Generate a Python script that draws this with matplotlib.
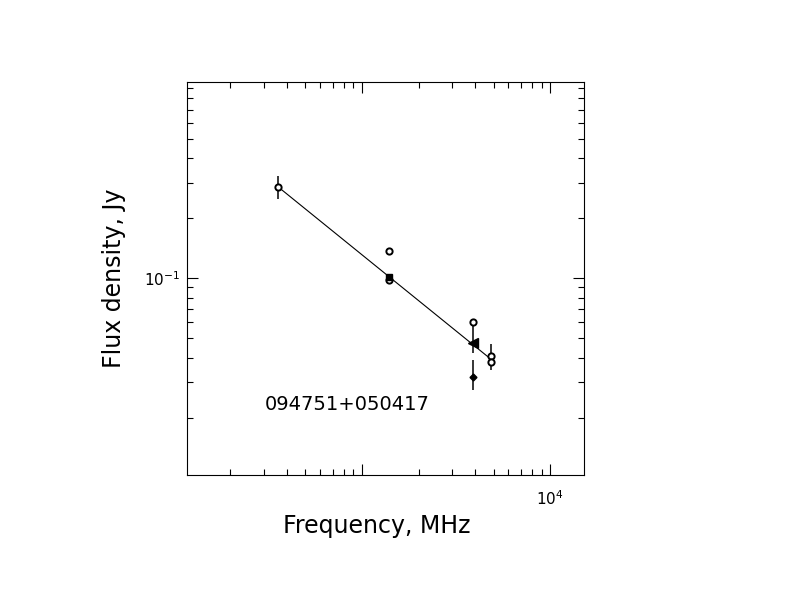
import numpy as np
import matplotlib
matplotlib.use("Agg")
import matplotlib.pyplot as plt
import matplotlib.ticker as ticker

# open circles
circ_freq = [358, 1400, 1400, 3900, 4850, 4850]
circ_flux = [0.288, 0.137, 0.098, 0.0606, 0.0408, 0.0378]
circ_err = [0.037, 0.0, 0.0, 0.0, 0.006, 0.0]

# filled square
sq_freq = [1400]
sq_flux = [0.102]

# filled triangle (asymmetric error)
tri_freq = [3900]
tri_flux = [0.0475]
tri_err_lo = [0.0052]
tri_err_hi = [0.0131]

# filled diamond
dia_freq = [3900]
dia_flux = [0.0321]
dia_err_lo = [0.0046]
dia_err_hi = [0.0068]

# power-law fit
fit_freq = [358, 4850]
fit_flux = [0.288, 0.0392]

source_name = "094751+050417"

plt.rcParams["font.family"] = ["DejaVu Sans"]

fig = plt.figure(figsize=(7.92, 6.12), dpi=100)
ax = fig.add_axes([0.2357, 0.2239, 0.502, 0.6426])
ax.set_xscale("log")
ax.set_yscale("log")
ax.set_xlim(117.2, 15155)
ax.set_ylim(0.0103, 0.97)

lw = 0.8
ax.plot(fit_freq, fit_flux, color="black", lw=lw)

ax.errorbar(circ_freq, circ_flux, yerr=circ_err, fmt="o", ms=4.5, mfc="white",
            mec="black", mew=1.4, ecolor="black", elinewidth=1.1, capsize=0, zorder=3)
ax.plot(sq_freq, sq_flux, "s", ms=4.5, color="black", zorder=4)
ax.errorbar(tri_freq, tri_flux, yerr=[tri_err_lo, tri_err_hi], fmt="<", ms=6.5,
            color="black", elinewidth=1.1, capsize=0, zorder=3)
ax.errorbar(dia_freq, dia_flux, yerr=[dia_err_lo, dia_err_hi], fmt="D", ms=3.5,
            color="black", elinewidth=1.1, capsize=0, zorder=3)

ax.text(0.197, 0.178, source_name, transform=ax.transAxes, fontsize=14,
        ha="left", va="center")

# ticks
ax.xaxis.set_major_locator(ticker.FixedLocator([1e3, 1e4]))
ax.xaxis.set_major_formatter(ticker.FixedFormatter(["", r"$10^{4}$"]))
ax.xaxis.set_minor_locator(ticker.LogLocator(base=10, subs=np.arange(2, 10)))
ax.xaxis.set_minor_formatter(ticker.NullFormatter())
ax.yaxis.set_major_locator(ticker.FixedLocator([0.1]))
ax.yaxis.set_major_formatter(ticker.FixedFormatter([r"$10^{-1}$"]))
ax.yaxis.set_minor_locator(ticker.LogLocator(base=10, subs=np.arange(2, 10)))
ax.yaxis.set_minor_formatter(ticker.NullFormatter())

ax.tick_params(which="both", direction="in", top=True, right=True, width=lw,
               labelsize=11)
ax.tick_params(axis="x", which="major", pad=10)
ax.tick_params(axis="y", which="major", pad=5)
ax.tick_params(which="major", length=8)
ax.tick_params(which="minor", length=4.5)
for s in ax.spines.values():
    s.set_linewidth(lw)

ax.set_xlabel("Frequency, MHz", fontsize=17)
ax.xaxis.set_label_coords(0.478, -0.1)
ax.set_ylabel("Flux density, Jy", fontsize=17)
ax.yaxis.set_label_coords(-0.152, 0.5)

fig.savefig("out.png", dpi=100)
